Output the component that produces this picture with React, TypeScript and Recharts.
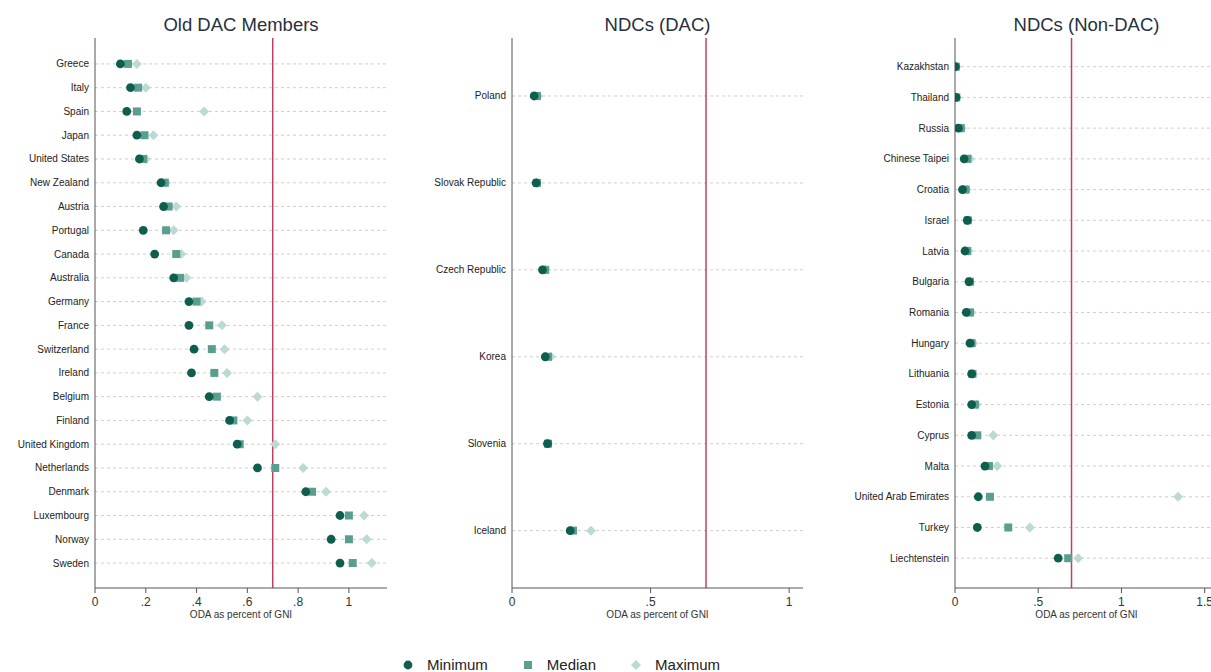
import React from "react";
import { ScatterChart, Scatter, XAxis, YAxis, ReferenceLine } from "recharts";

// Old DAC members, top to bottom
const oldDacCountries = [
  "Greece", "Italy", "Spain", "Japan", "United States", "New Zealand", "Austria", "Portugal",
  "Canada", "Australia", "Germany", "France", "Switzerland", "Ireland", "Belgium", "Finland",
  "United Kingdom", "Netherlands", "Denmark", "Luxembourg", "Norway", "Sweden",
];
const oldDacMin = [0.1, 0.14, 0.125, 0.165, 0.175, 0.26, 0.27, 0.19, 0.235, 0.31, 0.37, 0.37, 0.39, 0.38, 0.45, 0.53, 0.56, 0.64, 0.83, 0.965, 0.93, 0.965];
const oldDacMedian = [0.13, 0.17, 0.165, 0.195, 0.19, 0.275, 0.29, 0.28, 0.32, 0.335, 0.4, 0.45, 0.46, 0.47, 0.48, 0.545, 0.57, 0.71, 0.855, 1.0, 1.0, 1.015];
const oldDacMax = [0.165, 0.2, 0.43, 0.23, 0.2, 0.28, 0.32, 0.31, 0.34, 0.36, 0.42, 0.5, 0.51, 0.52, 0.64, 0.6, 0.71, 0.82, 0.91, 1.06, 1.07, 1.09];

// NDCs that joined the DAC
const ndcDacCountries = ["Poland", "Slovak Republic", "Czech Republic", "Korea", "Slovenia", "Iceland"];
const ndcDacMin = [0.08, 0.087, 0.11, 0.12, 0.128, 0.21];
const ndcDacMedian = [0.09, 0.09, 0.12, 0.13, 0.13, 0.22];
const ndcDacMax = [0.095, 0.09, 0.12, 0.14, 0.13, 0.285];

// NDCs outside the DAC
const ndcNonDacCountries = [
  "Kazakhstan", "Thailand", "Russia", "Chinese Taipei", "Croatia", "Israel", "Latvia", "Bulgaria",
  "Romania", "Hungary", "Lithuania", "Estonia", "Cyprus", "Malta", "United Arab Emirates", "Turkey",
  "Liechtenstein",
];
const ndcNonDacMin = [0.002, 0.006, 0.02, 0.055, 0.045, 0.074, 0.06, 0.084, 0.068, 0.09, 0.1, 0.1, 0.1, 0.18, 0.14, 0.134, 0.62];
const ndcNonDacMedian = [0.005, 0.008, 0.035, 0.075, 0.064, 0.077, 0.074, 0.09, 0.09, 0.1, 0.105, 0.12, 0.134, 0.204, 0.21, 0.32, 0.68];
const ndcNonDacMax = [0.008, 0.01, 0.04, 0.09, 0.07, 0.08, 0.08, 0.092, 0.1, 0.11, 0.11, 0.13, 0.23, 0.254, 1.34, 0.45, 0.74];

const oldDacTicks = [0, 0.2, 0.4, 0.6, 0.8, 1];
const ndcDacTicks = [0, 0.5, 1];
const ndcNonDacTicks = [0, 0.5, 1, 1.5];

const TARGET = 0.7;

const MIN_COLOR = "#0e5e4e";
const MED_COLOR = "#5a9e90";
const MAX_COLOR = "#bcdad3";
const FONT = "'Liberation Sans', Arial, sans-serif";

const fmtX = (v: number) => (v === 0 ? "0" : String(v).replace(/^0\./, "."));

const CircleDot = (p: any) => <circle cx={p.cx} cy={p.cy} r={4.4} fill={MIN_COLOR} />;
const SquareDot = (p: any) => <rect x={p.cx - 4} y={p.cy - 4} width={8} height={8} fill={MED_COLOR} />;
const DiamondDot = (p: any) => (
  <polygon
    points={`${p.cx},${p.cy - 5} ${p.cx + 5},${p.cy} ${p.cx},${p.cy + 5} ${p.cx - 5},${p.cy}`}
    fill={MAX_COLOR}
  />
);

interface PanelProps {
  title: string;
  countries: string[];
  min: number[];
  median: number[];
  max: number[];
  left: number;
  width: number;
  yAxisWidth: number;
  xMax: number;
  xTicks: number[];
  yDomain: [number, number];
}

function Panel({ title, countries, min, median, max, left, width, yAxisWidth, xMax, xTicks, yDomain }: PanelProps) {
  const rows = countries.map((_, i) => i + 1);
  const toPoints = (vals: number[]) => vals.map((v, i) => ({ x: v, y: i + 1 }));
  const CountryTick = (p: any) => (
    <text
      x={p.x}
      y={p.y}
      textAnchor="end"
      dominantBaseline="central"
      fill="#222"
      fontSize={10}
      fontFamily={FONT}
    >
      {countries[p.payload.value - 1]}
    </text>
  );
  return (
    <div style={{ position: "absolute", left, top: 0 }}>
      <div
        style={{
          position: "absolute",
          left: yAxisWidth,
          width: width - yAxisWidth,
          top: 15,
          textAlign: "center",
          fontFamily: FONT,
          fontSize: 18.5,
          lineHeight: "20px",
          color: "#263040",
          whiteSpace: "nowrap",
        }}
      >
        {title}
      </div>
      <ScatterChart width={width} height={640} margin={{ top: 38, right: 0, bottom: 12, left: 0 }}>
        {rows.map((r) => (
          <ReferenceLine key={r} y={r} stroke="#cfcfcf" strokeDasharray="3 3" />
        ))}
        <XAxis
          type="number"
          dataKey="x"
          domain={[0, xMax]}
          ticks={xTicks}
          tickFormatter={fmtX}
          allowDataOverflow
          height={40}
          tickSize={5}
          tickMargin={4}
          stroke="#555"
          tick={{ fill: "#333", fontSize: 12, fontFamily: FONT }}
          label={{ value: "ODA as percent of GNI", position: "insideBottom", offset: 10, fill: "#333", fontSize: 10, fontFamily: FONT }}
        />
        <YAxis
          type="number"
          dataKey="y"
          domain={yDomain}
          reversed
          allowDataOverflow
          ticks={rows}
          interval={0}
          width={yAxisWidth}
          tickLine={false}
          tickSize={0}
          tickMargin={6}
          stroke="#555"
          tick={CountryTick}
        />
        <ReferenceLine x={TARGET} stroke="#c2405f" strokeWidth={1.5} />
        <Scatter data={toPoints(max)} shape={DiamondDot} isAnimationActive={false} />
        <Scatter data={toPoints(median)} shape={SquareDot} isAnimationActive={false} />
        <Scatter data={toPoints(min)} shape={CircleDot} isAnimationActive={false} />
      </ScatterChart>
    </div>
  );
}

function LegendRow() {
  const items = [
    { label: "Minimum", icon: <circle cx={5} cy={5} r={4.4} fill={MIN_COLOR} /> },
    { label: "Median", icon: <rect x={1} y={1} width={8} height={8} fill={MED_COLOR} /> },
    { label: "Maximum", icon: <polygon points="5,0 10,5 5,10 0,5" fill={MAX_COLOR} /> },
  ];
  return (
    <div
      style={{
        position: "absolute",
        left: 403,
        top: 656,
        display: "flex",
        alignItems: "center",
        fontFamily: FONT,
        fontSize: 15,
        lineHeight: "18px",
        color: "#222",
      }}
    >
      {items.map((it, i) => (
        <div key={it.label} style={{ display: "flex", alignItems: "center", marginRight: i < 2 ? 35 : 0 }}>
          <svg width={10} height={10} style={{ marginRight: 14 }}>
            {it.icon}
          </svg>
          <span>{it.label}</span>
        </div>
      ))}
    </div>
  );
}

export default function App() {
  return (
    <div
      style={{
        position: "absolute",
        left: 0,
        top: 0,
        width: 1211,
        height: 672,
        overflow: "hidden",
        background: "#fff",
      }}
    >
      <Panel
        title="Old DAC Members"
        countries={oldDacCountries}
        min={oldDacMin}
        median={oldDacMedian}
        max={oldDacMax}
        left={0}
        width={387}
        yAxisWidth={95}
        xMax={1.15}
        xTicks={oldDacTicks}
        yDomain={[-0.09, 23.05]}
      />
      <Panel
        title="NDCs (DAC)"
        countries={ndcDacCountries}
        min={ndcDacMin}
        median={ndcDacMedian}
        max={ndcDacMax}
        left={420}
        width={383}
        yAxisWidth={92}
        xMax={1.05}
        xTicks={ndcDacTicks}
        yDomain={[0.333, 6.66]}
      />
      <Panel
        title="NDCs (Non-DAC)"
        countries={ndcNonDacCountries}
        min={ndcNonDacMin}
        median={ndcNonDacMedian}
        max={ndcNonDacMax}
        left={820}
        width={398}
        yAxisWidth={135}
        xMax={1.58}
        xTicks={ndcNonDacTicks}
        yDomain={[0.066, 17.97]}
      />
      <LegendRow />
    </div>
  );
}
